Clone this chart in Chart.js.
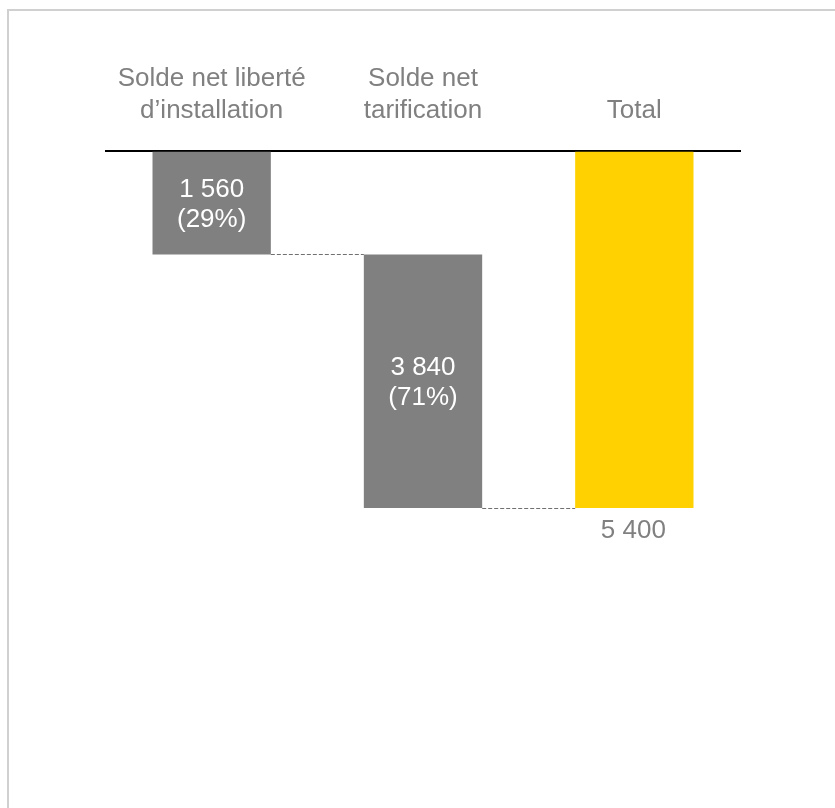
<!DOCTYPE html>
<html>
<head>
<meta charset="utf-8">
<script src="https://cdn.jsdelivr.net/npm/chart.js@4"></script>
<style>
  html, body { margin: 0; padding: 0; background: #fff; }
</style>
</head>
<body>
<canvas id="waterfall" width="835" height="808"></canvas>
<script>
// waterfall data
const categories = [['Solde net liberté', 'd\u2019installation'], ['Solde net', 'tarification'], 'Total'];
const steps = [1560, 3840];
const total = 5400;

const GREY = '#808080';
const YELLOW = '#FFD100';
const FONT = "'Liberation Sans', Arial, sans-serif";

// floating bars: each step starts where the previous one ended, total starts at 0
let running = 0;
const bars = steps.map(v => {
    const b = [running, running + v];
    running += v;
    return b;
});
bars.push([0, total]);

// "1 560" style thousands
function fmt(n) {
    return String(n).replace(/\B(?=(\d{3})+(?!\d))/g, ' ');
}

const waterfallExtras = {
    id: 'waterfallExtras',
    beforeDraw(chart) {
        // light frame around the slide, cut off on the right/bottom
        const ctx = chart.ctx;
        ctx.save();
        ctx.strokeStyle = '#d0d0d0';
        ctx.lineWidth = 2;
        ctx.strokeRect(8, 10, 900, 900);
        ctx.restore();
    },
    afterDatasetsDraw(chart) {
        const ctx = chart.ctx;
        const meta = chart.getDatasetMeta(0);
        const y = chart.scales.y;
        ctx.save();

        // dashed connectors between consecutive bars
        ctx.strokeStyle = '#707070';
        ctx.lineWidth = 1.2;
        ctx.setLineDash([4, 2]);
        for (let i = 0; i < bars.length - 1; i++) {
            const a = meta.data[i], b = meta.data[i + 1];
            const yy = Math.round(y.getPixelForValue(bars[i][1])) + 0.5;
            ctx.beginPath();
            ctx.moveTo(a.x + a.width / 2, yy);
            ctx.lineTo(b.x - b.width / 2, yy);
            ctx.stroke();
        }
        ctx.setLineDash([]);

        // value labels
        ctx.font = '26px ' + FONT;
        ctx.textAlign = 'center';
        ctx.textBaseline = 'middle';
        steps.forEach((v, i) => {
            const bar = meta.data[i];
            const mid = (y.getPixelForValue(bars[i][0]) + y.getPixelForValue(bars[i][1])) / 2;
            ctx.fillStyle = '#ffffff';
            ctx.fillText(fmt(v), bar.x, mid - 13);
            ctx.fillText('(' + Math.round(v / total * 100) + '%)', bar.x, mid + 17);
        });
        const last = meta.data[bars.length - 1];
        ctx.fillStyle = GREY;
        ctx.fillText(fmt(total), last.x - 1, y.getPixelForValue(total) + 23);

        ctx.restore();
    }
};

new Chart('waterfall', {
    type: 'bar',
    data: {
        labels: categories,
        datasets: [{
            data: bars,
            backgroundColor: [GREY, GREY, YELLOW],
            borderWidth: 0,
            barPercentage: 0.56,
            categoryPercentage: 1
        }]
    },
    options: {
        responsive: false,
        animation: false,
        layout: { padding: { left: 106, right: 95, top: 38, bottom: 300 } },
        plugins: {
            legend: { display: false },
            tooltip: { enabled: false }
        },
        scales: {
            x: {
                position: 'top',
                grid: { display: false, drawTicks: false },
                border: { display: true, color: '#000', width: 2 },
                ticks: {
                    color: GREY,
                    padding: 25,
                    maxRotation: 0,
                    font: { family: FONT, size: 26, lineHeight: 1.22 }
                }
            },
            y: {
                display: false,
                reverse: true,
                min: 0,
                max: total
            }
        }
    },
    plugins: [waterfallExtras]
});
</script>
</body>
</html>
